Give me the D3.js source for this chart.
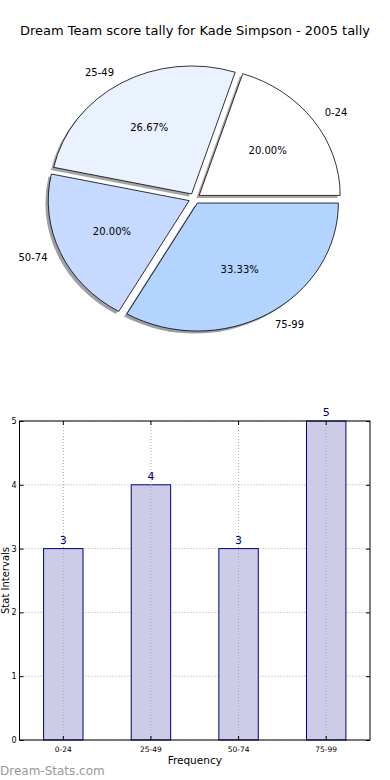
<!DOCTYPE html>
<html lang="en">
<head>
    <meta charset="UTF-8">
    <title>Dream Team score tally</title>
    <script src="https://cdn.jsdelivr.net/npm/d3@7/dist/d3.min.js"></script>
    <style>
        body { margin: 0; background: #fff; }
        text { font-family: "DejaVu Sans", sans-serif; }
    </style>
</head>
<body>
<svg id="chart" width="390" height="780"></svg>

<script>
    /* global d3*/

    var categories = ["0-24", "25-49", "50-74", "75-99"],
        counts = [3, 4, 3, 5],
        sliceColors = ["#ffffff", "#ebf2ff", "#c6d9ff", "#b3d4ff"],
        yTicks = [0, 1, 2, 3, 4, 5];

    var svg = d3.select("#chart"),
        total = d3.sum(counts);

    svg.append("text")
        .attr("x", 195)
        .attr("y", 35)
        .attr("text-anchor", "middle")
        .style("font-size", "13px")
        .text("Dream Team score tally for Kade Simpson - 2005 tally");

    // ---- pie (matplotlib style: starts at 3 o'clock, counter-clockwise, exploded, shadow)
    var cx = 194.5, cy = 198.5, rx = 141, ry = 128, explode = 0.041;

    var pie = d3.pie()
        .sort(null)
        .startAngle(Math.PI / 2)
        .endAngle(Math.PI / 2 - 2 * Math.PI);

    var arcs = pie(counts);
    var arc = d3.arc().innerRadius(0).outerRadius(1);

    arcs.forEach(function (d, i) {
        var m = (d.startAngle + d.endAngle) / 2;
        d.ux = Math.sin(m);
        d.uy = -Math.cos(m);
        d.ox = cx + explode * rx * d.ux;
        d.oy = cy + explode * ry * d.uy;
        d.color = sliceColors[i];
    });

    var pieG = svg.append("g");

    // shadows
    pieG.selectAll("path.shadow")
        .data(arcs)
        .enter().append("path")
        .attr("class", "shadow")
        .attr("transform", function (d) {
            return "translate(" + (d.ox - 0.02 * rx) + "," + (d.oy + 0.02 * ry) + ") scale(" + rx + "," + ry + ")";
        })
        .attr("d", arc)
        .attr("fill", function (d) {
            var c = d3.rgb(d.color);
            return d3.rgb(c.r * 0.3, c.g * 0.3, c.b * 0.3);
        })
        .attr("fill-opacity", 0.5);

    pieG.selectAll("path.slice")
        .data(arcs)
        .enter().append("path")
        .attr("class", "slice")
        .attr("transform", function (d) {
            return "translate(" + d.ox + "," + d.oy + ") scale(" + rx + "," + ry + ")";
        })
        .attr("d", arc)
        .attr("fill", function (d) { return d.color; })
        .attr("stroke", "#000")
        .attr("stroke-width", 0.8)
        .attr("vector-effect", "non-scaling-stroke");

    pieG.selectAll("text.lbl")
        .data(arcs)
        .enter().append("text")
        .attr("class", "lbl")
        .attr("x", function (d) { return d.ox + 1.1 * rx * d.ux; })
        .attr("y", function (d) { return d.oy + 1.1 * ry * d.uy; })
        .attr("dy", "0.35em")
        .attr("text-anchor", function (d) { return d.ux >= 0 ? "start" : "end"; })
        .style("font-size", "10px")
        .text(function (d, i) { return categories[i]; });

    pieG.selectAll("text.pct")
        .data(arcs)
        .enter().append("text")
        .attr("class", "pct")
        .attr("x", function (d) { return d.ox + 0.6 * rx * d.ux; })
        .attr("y", function (d) { return d.oy + 0.6 * ry * d.uy; })
        .attr("dy", "0.35em")
        .attr("text-anchor", "middle")
        .style("font-size", "10px")
        .text(function (d) { return (100 * d.value / total).toFixed(2) + "%"; });

    // ---- bar chart
    var plotLeft = 19.5, plotRight = 370, plotTop = 421, plotBottom = 740;

    var x = d3.scaleBand()
        .domain(categories)
        .range([plotLeft, plotRight])
        .paddingInner(0.55)
        .paddingOuter(0.275);

    var y = d3.scaleLinear()
        .domain([0, 5])
        .range([plotBottom, plotTop]);

    var barG = svg.append("g");

    // grid
    barG.selectAll("line.hgrid")
        .data(yTicks)
        .enter().append("line")
        .attr("x1", plotLeft).attr("x2", plotRight)
        .attr("y1", function (d) { return y(d); })
        .attr("y2", function (d) { return y(d); })
        .attr("stroke", "#aaa")
        .attr("stroke-width", 1)
        .attr("stroke-dasharray", "1,2");

    barG.selectAll("rect.bar")
        .data(counts)
        .enter().append("rect")
        .attr("x", function (d, i) { return x(categories[i]); })
        .attr("y", function (d) { return y(d); })
        .attr("width", x.bandwidth())
        .attr("height", function (d) { return y(0) - y(d); })
        .attr("fill", "#cccce6")
        .attr("stroke", "#000080")
        .attr("stroke-width", 1);

    barG.selectAll("line.vgrid")
        .data(categories)
        .enter().append("line")
        .attr("x1", function (d) { return x(d) + x.bandwidth() / 2; })
        .attr("x2", function (d) { return x(d) + x.bandwidth() / 2; })
        .attr("y1", plotTop).attr("y2", plotBottom)
        .attr("stroke", "#aaa")
        .attr("stroke-width", 1)
        .attr("stroke-dasharray", "1,2");

    barG.selectAll("text.val")
        .data(counts)
        .enter().append("text")
        .attr("x", function (d, i) { return x(categories[i]) + x.bandwidth() / 2; })
        .attr("y", function (d) { return y(d) - 5; })
        .attr("text-anchor", "middle")
        .attr("fill", "#000080")
        .style("font-size", "11px")
        .text(function (d) { return d; });

    // frame
    barG.append("rect")
        .attr("x", plotLeft).attr("y", plotTop)
        .attr("width", plotRight - plotLeft).attr("height", plotBottom - plotTop)
        .attr("fill", "none")
        .attr("stroke", "#000")
        .attr("stroke-width", 1);

    // axes with inward ticks
    var yAxis = d3.axisLeft(y).tickValues(yTicks).tickSize(-4).tickPadding(3).tickFormat(d3.format("d"));
    var yAxisR = d3.axisRight(y).tickValues(yTicks).tickSize(-4).tickFormat("");
    var xAxis = d3.axisBottom(x).tickSize(-4).tickPadding(7);
    var xAxisT = d3.axisTop(x).tickSize(-4).tickFormat("");

    function styleAxis(g, size) {
        g.select(".domain").remove();
        g.selectAll("line").attr("stroke", "#000");
        g.selectAll("text").style("font-size", size).attr("fill", "#000");
    }

    barG.append("g").attr("transform", "translate(" + plotLeft + ",0)").call(yAxis).call(styleAxis, "8px");
    barG.append("g").attr("transform", "translate(" + plotRight + ",0)").call(yAxisR).call(styleAxis, "8px");
    barG.append("g").attr("transform", "translate(0," + plotBottom + ")").call(xAxis).call(styleAxis, "7.5px");
    barG.append("g").attr("transform", "translate(0," + plotTop + ")").call(xAxisT).call(styleAxis, "7.5px");

    svg.append("text")
        .attr("x", (plotLeft + plotRight) / 2)
        .attr("y", 764)
        .attr("text-anchor", "middle")
        .style("font-size", "10.5px")
        .text("Frequency");

    svg.append("text")
        .attr("transform", "translate(9," + ((plotTop + plotBottom) / 2) + ") rotate(-90)")
        .attr("text-anchor", "middle")
        .style("font-size", "10px")
        .text("Stat Intervals");

    svg.append("text")
        .attr("x", 0)
        .attr("y", 775)
        .attr("fill", "#999")
        .style("font-size", "12px")
        .text("Dream-Stats.com");
</script>
</body>
</html>
